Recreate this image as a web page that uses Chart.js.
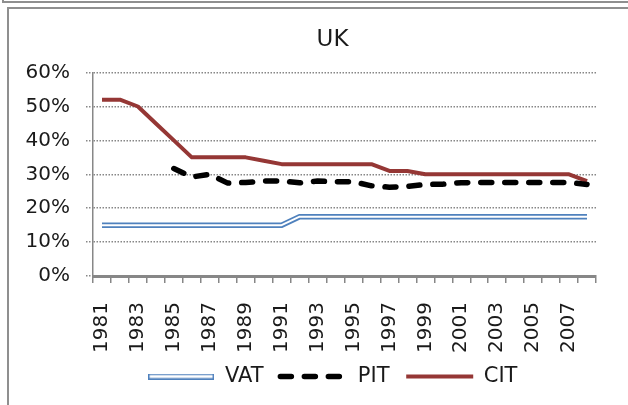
<!DOCTYPE html>
<html>
<head>
<meta charset="utf-8">
<script src="https://cdn.jsdelivr.net/npm/chart.js@4.4.1/dist/chart.umd.min.js"></script>
<style>
  html, body { margin: 0; padding: 0; background: #fff; }
  body { width: 628px; height: 405px; overflow: hidden; position: relative; }
  #marco-sup { position: absolute; left: 2px; top: -9px; width: 700px; height: 10px;
               border-left: 2px solid #8f8f8f; border-bottom: 2px solid #8f8f8f; }
  #marco { position: absolute; left: 7px; top: 7px; width: 700px; height: 500px;
           border: 2px solid #8f8f8f; }
  #caja { position: absolute; left: 9px; top: 9px; width: 646px; height: 396px; }
</style>
</head>
<body>
<div id="marco-sup"></div>
<div id="marco"></div>
<div id="caja"><canvas id="grafico"></canvas></div>
<script>
// ==============================
// DATOS
// ==============================
const anios = ["1981", "1982", "1983", "1984", "1985", "1986", "1987", "1988", "1989", "1990",
               "1991", "1992", "1993", "1994", "1995", "1996", "1997", "1998", "1999", "2000",
               "2001", "2002", "2003", "2004", "2005", "2006", "2007", "2008"];
const vat = [15, 15, 15, 15, 15, 15, 15, 15, 15, 15, 15,
             17.5, 17.5, 17.5, 17.5, 17.5, 17.5, 17.5, 17.5, 17.5, 17.5,
             17.5, 17.5, 17.5, 17.5, 17.5, 17.5, 17.5];
const pit = [null, null, null, null, 31.7, 29.2, 30, 27.4, 27.6, 28,
             28, 27.5, 28, 27.8, 27.8, 26.6, 26.2, 26.4, 27, 27.1,
             27.5, 27.6, 27.6, 27.6, 27.6, 27.6, 27.6, 27];
const cit = [52, 52, 50, 45, 40, 35, 35, 35, 35, 34,
             33, 33, 33, 33, 33, 33, 31, 31, 30, 30,
             30, 30, 30, 30, 30, 30, 30, 28];
const ticksY = [0, 10, 20, 30, 40, 50, 60];

const AZUL = "#4f81bd";
const ROJO = "#953735";
const GRIS = "#878787";
const TEXTO = "#1a1a1a";
const FUENTE = "DejaVu Sans";

Chart.defaults.font.family = FUENTE;
Chart.defaults.font.size = 20;
Chart.defaults.color = TEXTO;

// ancho de la etiqueta mas larga del eje Y (para alinear a la derecha con mirror)
const medidor = document.createElement("canvas").getContext("2d");
medidor.font = "20px " + FUENTE;
const anchoY = Math.max(...ticksY.map(v => medidor.measureText(v + "%").width));

// linea doble del IVA para la leyenda
const muestraVat = document.createElement("canvas");
muestraVat.width = 66;
muestraVat.height = 6;
const c2 = muestraVat.getContext("2d");
c2.fillStyle = AZUL;
c2.fillRect(0, 0, 66, 6);
c2.fillStyle = "#fff";
c2.fillRect(1.5, 1.5, 63, 3);

const guionPit = [11, 13];

new Chart(document.getElementById("grafico"), {
    type: "line",
    data: {
        labels: anios,
        datasets: [
            { label: "VAT", data: vat, borderColor: "#fff", borderWidth: 2, order: 0 },
            { label: "VAT", data: vat, borderColor: AZUL, borderWidth: 5.5, order: 1 },
            { label: "PIT", data: pit, borderColor: "#000", borderWidth: 5.5,
              borderDash: guionPit, borderCapStyle: "round", order: 2 },
            { label: "CIT", data: cit, borderColor: ROJO, borderWidth: 4, order: 3 }
        ]
    },
    options: {
        responsive: true,
        maintainAspectRatio: false,
        animation: false,
        layout: { padding: { top: 0, left: 60, right: 59, bottom: 8 } },
        elements: {
            point: { radius: 0, hoverRadius: 0 },
            line: { tension: 0, fill: false, borderJoinStyle: "round" }
        },
        plugins: {
            tooltip: { enabled: false },
            title: {
                display: true,
                text: "UK",
                font: { size: 23, weight: "normal" },
                color: TEXTO,
                padding: { top: 17, bottom: 19 }
            },
            legend: {
                position: "bottom",
                labels: {
                    usePointStyle: true,
                    pointStyleWidth: 67,
                    padding: 10,
                    font: { size: 21 },
                    generateLabels: () => [
                        { text: "VAT ", pointStyle: muestraVat, fillStyle: AZUL, strokeStyle: AZUL,
                          lineWidth: 0, hidden: false, datasetIndex: 1, fontColor: TEXTO },
                        { text: "PIT ", pointStyle: "line", fillStyle: "#000", strokeStyle: "#000",
                          lineWidth: 5.5, lineDash: guionPit, lineCap: "round",
                          hidden: false, datasetIndex: 2, fontColor: TEXTO },
                        { text: "CIT", pointStyle: "line", fillStyle: ROJO, strokeStyle: ROJO,
                          lineWidth: 4, hidden: false, datasetIndex: 3, fontColor: TEXTO }
                    ]
                }
            }
        },
        scales: {
            x: {
                offset: true,
                afterFit: s => { s.height = 80; },
                grid: {
                    offset: true,
                    drawOnChartArea: false,
                    drawTicks: true,
                    tickLength: 7,
                    color: GRIS,
                    lineWidth: 1.5
                },
                border: { display: true, color: GRIS, width: 3 },
                ticks: {
                    autoSkip: false,
                    minRotation: 90,
                    maxRotation: 90,
                    padding: 19,
                    font: { size: 20 },
                    callback: function (v, i) { return i % 2 === 0 ? this.getLabelForValue(v) : ""; }
                }
            },
            y: {
                min: 0,
                max: 60,
                afterFit: s => { s.width = 24; },
                afterBuildTicks: s => { s.ticks = ticksY.map(v => ({ value: v })); },
                grid: {
                    color: GRIS,
                    lineWidth: 1.5,
                    borderDash: [1.5, 1.5],
                    tickBorderDash: [1.5, 1.5],
                    tickLength: 7
                },
                border: { display: true, color: GRIS, width: 1.5, dash: [1.5, 1.5] },
                ticks: {
                    mirror: true,
                    crossAlign: "far",
                    padding: -23 - anchoY,
                    font: { size: 20 },
                    callback: v => v + "%"
                }
            }
        }
    }
});
</script>
</body>
</html>
